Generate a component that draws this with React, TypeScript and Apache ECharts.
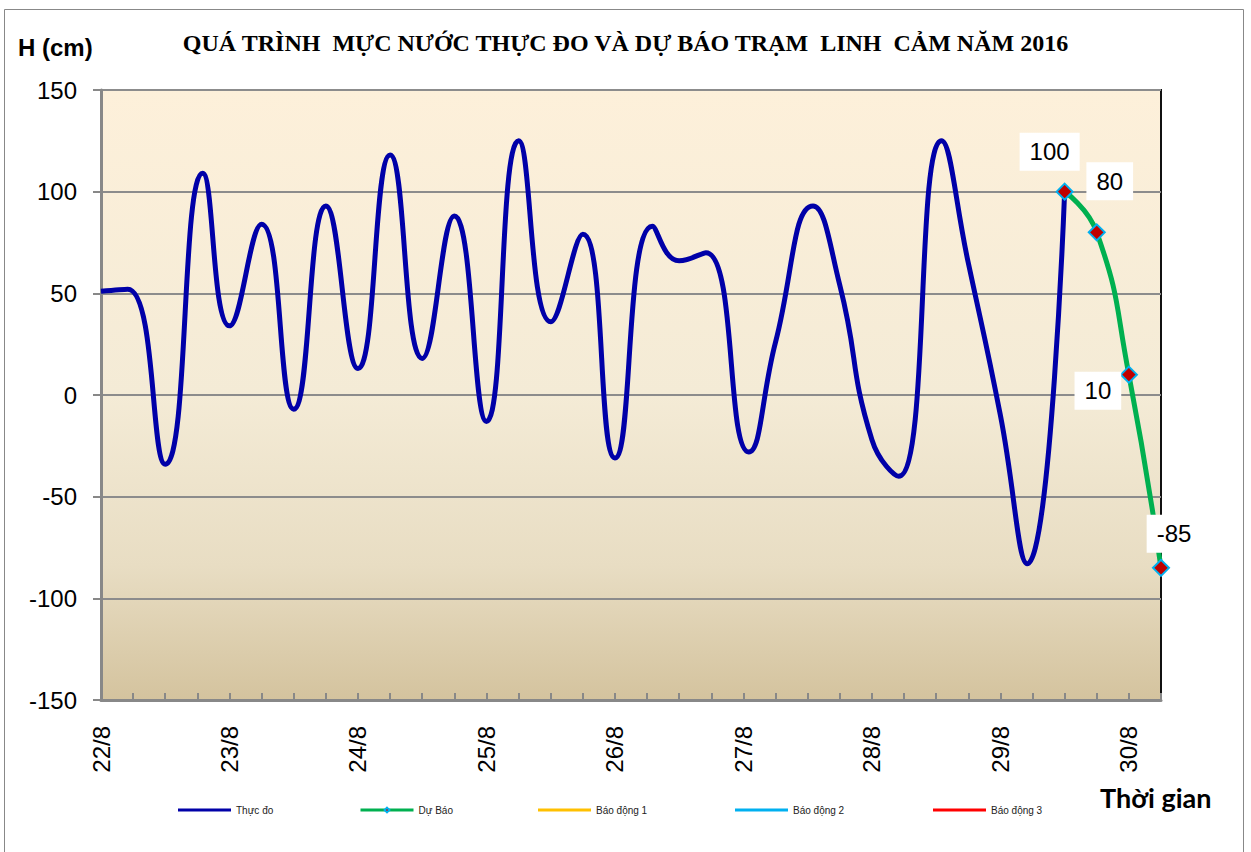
import React, { useEffect, useRef } from 'react';
import * as echarts from 'echarts';

const TITLE = 'QUÁ TRÌNH  MỰC NƯỚC THỰC ĐO VÀ DỰ BÁO TRẠM  LINH  CẢM NĂM 2016';
const Y_NAME = 'H (cm)';
const X_NAME = 'Thời gian';
const SERIES_NAMES = ['Thực đo', 'Dự Báo', 'Báo động 1', 'Báo động 2', 'Báo động 3'];
const START_DAY = 22;
const MONTH = 8;

// hours since 00h of 22/8
const observedHours = [0, 5, 12, 19, 24, 30, 36, 42, 48, 54, 60, 66, 72, 78, 84, 90, 96, 103, 108, 113, 121, 126, 133, 138, 144, 149, 157, 162, 168, 173, 180];
const observedLevels = [51, 52, -34, 109, 34, 84, -7, 93, 13, 118, 18, 88, -13, 125, 36, 79, -31, 83, 66, 70, -28, 26, 93, 54, -22, -40, 125, 65, -10, -83, 100];

const forecastHours = [180, 186, 192, 198];
const forecastLevels = [100, 80, 10, -85];

const X_MIN = 0;
const X_MAX = 198;
const X_STEP = 6;
const Y_MIN = -150;
const Y_MAX = 150;
const Y_STEP = 50;

const SERIES_COLORS = ['#0000A8', '#00B050', '#FFC000', '#00B0F0', '#FF0000'];
const LABEL_OFFSETS = [[-15, -40], [13, -51], [-31, 16], [13, -34]];
const LEGEND_LEFTS = [178, 359, 538, 735, 933];

const FONT = '"Liberation Sans", Arial, sans-serif';

export default function App() {
  const ref = useRef<HTMLDivElement>(null);
  useEffect(() => {
    const chart = echarts.init(ref.current!, null, { renderer: 'svg' });
    const observed = observedHours.map((h, i) => [h, observedLevels[i]]);
    const forecast = forecastHours.map((h, i) => ({
      value: [h, forecastLevels[i]],
      label: { offset: LABEL_OFFSETS[i] },
    }));
    const option: any = {
      animation: false,
      backgroundColor: '#fff',
      title: {
        text: TITLE,
        left: 'center',
        top: 31,
        padding: 0,
        textStyle: { fontFamily: '"Liberation Serif", "Times New Roman", serif', fontWeight: 'bold', fontSize: 24, color: '#000' },
      },
      grid: {
        left: 101,
        top: 90,
        right: 90,
        bottom: 152,
        show: true,
        outerBoundsMode: 'none',
        borderColor: '#111',
        borderWidth: 2,
        backgroundColor: new echarts.graphic.LinearGradient(0, 0, 0, 1, [
          { offset: 0, color: '#FDF0DA' },
          { offset: 0.5, color: '#F4EBD6' },
          { offset: 0.78, color: '#E8DDC3' },
          { offset: 1, color: '#D4C39E' },
        ]),
      },
      legend: SERIES_NAMES.map((n, i) => ({
        data: [i === 1 ? { name: n } : { name: n, icon: 'rect' }],
        left: LEGEND_LEFTS[i],
        top: 805,
        padding: 0,
        itemWidth: 53,
        itemHeight: i === 1 ? 6 : 3,
        lineStyle: { width: 3 },
        textStyle: { fontFamily: FONT, fontSize: 10, color: '#222' },
      })),
      xAxis: {
        type: 'value',
        min: X_MIN,
        max: X_MAX,
        interval: X_STEP,
        axisLine: { show: true, onZero: false, lineStyle: { color: '#888', width: 3 } },
        axisTick: { show: true, inside: true, length: 7, lineStyle: { color: '#888', width: 2 } },
        splitLine: { show: false },
        axisLabel: {
          rotate: 90,
          margin: 26,
          fontSize: 24,
          fontFamily: FONT,
          color: '#000',
          formatter: (v: number) => (v % 24 === 0 ? `${START_DAY + v / 24}/${MONTH}` : ''),
        },
      },
      yAxis: {
        type: 'value',
        min: Y_MIN,
        max: Y_MAX,
        interval: Y_STEP,
        axisLine: { show: true, onZero: false, lineStyle: { color: '#888', width: 3 } },
        axisTick: { show: true, length: 8, lineStyle: { color: '#888', width: 2 } },
        splitLine: { show: true, lineStyle: { color: '#8c8c8c', width: 2 } },
        axisLabel: { margin: 24, fontSize: 24, fontFamily: FONT, color: '#000' },
      },
      series: [
        {
          name: SERIES_NAMES[0],
          type: 'line',
          data: observed,
          smooth: 0.5,
          symbol: 'none',
          color: SERIES_COLORS[0],
          lineStyle: { color: SERIES_COLORS[0], width: 5 },
          z: 2,
        },
        {
          name: SERIES_NAMES[1],
          type: 'line',
          data: forecast,
          smooth: 0.5,
          symbol: 'diamond',
          symbolSize: 16,
          color: SERIES_COLORS[1],
          lineStyle: { color: SERIES_COLORS[1], width: 5 },
          itemStyle: { color: '#C00000', borderColor: '#00B0F0', borderWidth: 2 },
          label: {
            show: true,
            position: 'inside',
            formatter: (p: any) => String(p.value[1]),
            backgroundColor: '#fff',
            padding: [7, 10],
            fontSize: 24,
            fontFamily: FONT,
            color: '#000',
          },
          z: 3,
        },
        { name: SERIES_NAMES[2], type: 'line', data: [], symbol: 'none', color: SERIES_COLORS[2], lineStyle: { color: SERIES_COLORS[2] } },
        { name: SERIES_NAMES[3], type: 'line', data: [], symbol: 'none', color: SERIES_COLORS[3], lineStyle: { color: SERIES_COLORS[3] } },
        { name: SERIES_NAMES[4], type: 'line', data: [], symbol: 'none', color: SERIES_COLORS[4], lineStyle: { color: SERIES_COLORS[4] } },
      ],
      graphic: [
        {
          type: 'rect',
          silent: true,
          z: -10,
          shape: { x: 4.5, y: 9.5, width: 1239, height: 860 },
          style: { fill: 'none', stroke: '#888', lineWidth: 1 },
        },
        {
          type: 'text',
          x: 18,
          y: 47,
          style: { text: Y_NAME, font: `bold 24px ${FONT}`, fill: '#000', verticalAlign: 'middle' },
        },
        {
          type: 'text',
          x: 1100,
          y: 797,
          style: { text: X_NAME, font: `bold 27px Lato, ${FONT}`, fill: '#000', verticalAlign: 'middle' },
        },
      ],
    };
    chart.setOption(option);
    return () => chart.dispose();
  }, []);
  return <div ref={ref} style={{ position: 'absolute', left: 0, top: 0, width: 1251, height: 852 }} />;
}
